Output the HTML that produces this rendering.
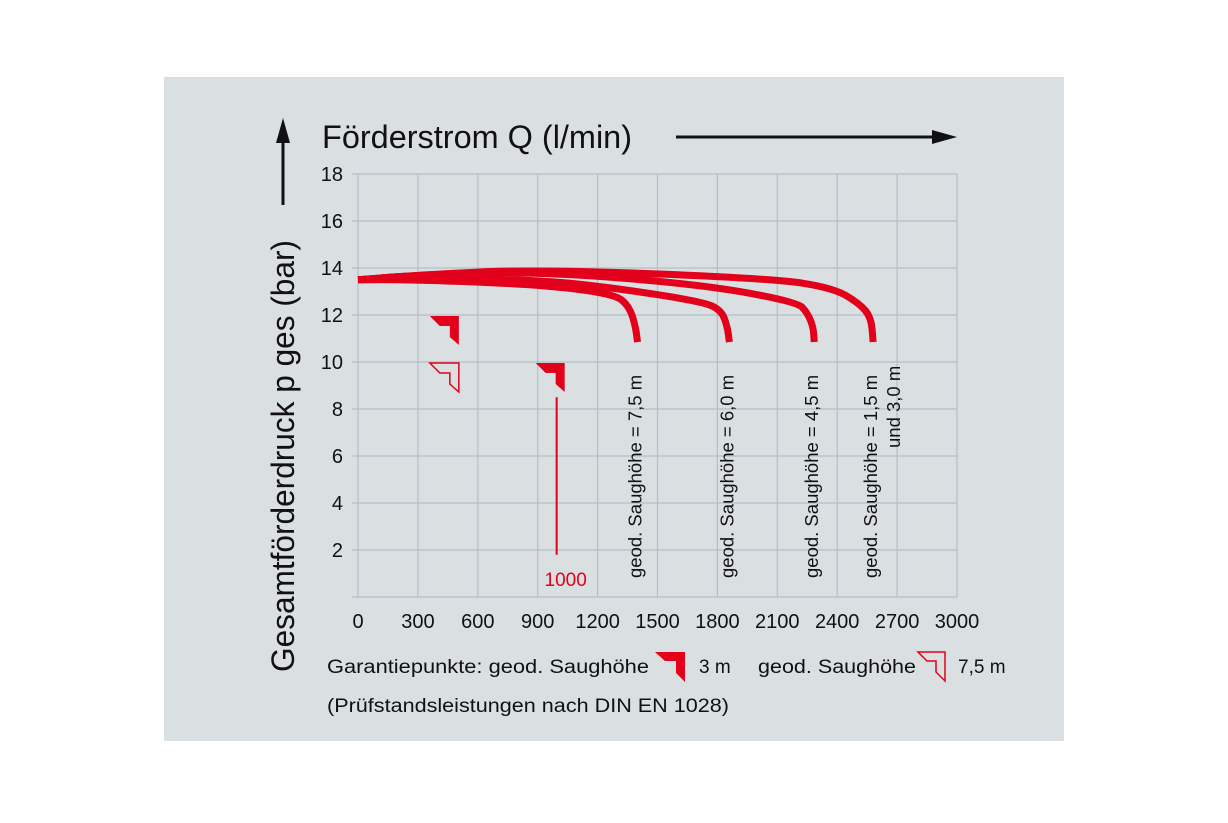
<!DOCTYPE html>
<html><head><meta charset="utf-8"><style>
body{margin:0;width:1228px;height:818px;background:#fff;overflow:hidden}
svg text{font-family:"Liberation Sans",sans-serif;fill:#111}
</style></head><body>
<svg id="chart" width="1228" height="818" xmlns="http://www.w3.org/2000/svg">
<rect x="164" y="77" width="900" height="664" fill="#dadfe2"/>
<g id="grid"></g>
<g id="yticks"></g>
<g id="xticks"></g>
<g id="curves"></g>
<g id="markers"></g>
<g id="labels"></g>
<text x="322" y="148" font-size="32" textLength="310" lengthAdjust="spacingAndGlyphs">Förderstrom Q (l/min)</text>
<line x1="676" y1="137" x2="935" y2="137" stroke="#111" stroke-width="3"/>
<polygon points="957,137 932,130 932,144" fill="#111"/>
<text transform="translate(294,672) rotate(-90)" font-size="32" textLength="432" lengthAdjust="spacingAndGlyphs">Gesamtförderdruck p ges (bar)</text>
<line x1="283" y1="140" x2="283" y2="205" stroke="#111" stroke-width="3"/>
<polygon points="283,118 276,143 290,143" fill="#111"/>
<text x="327" y="673" font-size="19" textLength="322" lengthAdjust="spacingAndGlyphs">Garantiepunkte: geod. Saughöhe</text>
<polygon points="655,652 685,652 685,682 676,673 676,661 665,661" fill="#e2001a"/>
<text x="699" y="673" font-size="19">3 m</text>
<text x="758" y="673" font-size="19" textLength="158" lengthAdjust="spacingAndGlyphs">geod. Saughöhe</text>
<polygon points="918,652 945,652 945,681 936,672 936,661 927,661" fill="none" stroke="#e2001a" stroke-width="1.5"/>
<text x="958" y="673" font-size="19">7,5 m</text>
<text x="327" y="712" font-size="19" textLength="402" lengthAdjust="spacingAndGlyphs">(Prüfstandsleistungen nach DIN EN 1028)</text>
</svg>
<script>
const xTicks=[0,300,600,900,1200,1500,1800,2100,2400,2700,3000];
const yTicks=[2,4,6,8,10,12,14,16,18];
const curveNames=["7,5 m","6,0 m","4,5 m","1,5 m und 3,0 m"];
const curveQ=[
 [0,300,900,1285,1360,1390,1400],
 [0,300,900,1285,1725,1820,1850,1860],
 [0,300,900,1725,2200,2250,2280,2285],
 [0,300,900,2080,2380,2510,2570,2580]];
const curveP=[
 [13.5,13.5,13.3,12.9,12.35,11.5,10.85],
 [13.5,13.55,13.5,13.15,12.57,12.2,11.5,10.85],
 [13.5,13.7,13.85,13.3,12.55,12.1,11.5,10.85],
 [13.5,13.7,13.95,13.55,13.15,12.5,11.9,10.85]];
const filledMarkers=[[470,12],[1000,10]];
const outlineMarkers=[[470,10]];
const refQ=[1000];
const refTop=[8.5];
const refBottom=[1.8];

const NS="http://www.w3.org/2000/svg";
const X=q=>358+q*(599/3000);
const Y=p=>597-p*23.5;
function el(tag,attrs,parent){const e=document.createElementNS(NS,tag);for(const k in attrs)e.setAttribute(k,attrs[k]);document.getElementById(parent).appendChild(e);return e;}
xTicks.forEach(t=>{
 const l=el('line',{x1:X(t),x2:X(t),y1:Y(18),y2:Y(0),stroke:'#b5bec8','stroke-width':1.2},'grid');
 
 
 const tx=el('text',{x:X(t),y:628,'font-size':20,'text-anchor':'middle'},'xticks');
 tx.textContent=t;
 
 
});
[0].concat(yTicks).forEach(t=>{
 const l=el('line',{x1:X(0)-6,x2:X(3000),y1:Y(t),y2:Y(t),stroke:'#b5bec8','stroke-width':1.2},'grid');
 
 
});
yTicks.forEach(t=>{
 const tx=el('text',{x:343,y:Y(t)+7,'font-size':20,'text-anchor':'end'},'yticks');
 tx.textContent=t;
 
 
});
curveQ.forEach((qs,i)=>{
 const pts=qs.map((q,j)=>[X(q),Y(curveP[i][j])]);
 let d='M'+pts[0];
 for(let j=1;j<pts.length;j++){
  const p0=pts[j-1],p1=pts[j];
  const mx=(p0[0]+p1[0])/2;
  d+=' Q'+p0[0]+','+p0[1]+' '+mx+','+(p0[1]+p1[1])/2;
 }
 d+=' L'+pts[pts.length-1];
 const c=el('path',{d:d,fill:'none',stroke:'#e2001a','stroke-width':7,'stroke-linejoin':'round'},'curves');
 
 
});
function marker(q,p,filled){
 const x=X(q)-22,y=Y(p)+1;
 const pts=[[x,y],[x+29,y],[x+29,y+29],[x+20,y+21],[x+20,y+10],[x+10,y+10]].map(a=>a.join(',')).join(' ');
 return el('polygon',{points:pts,fill:filled?'#e2001a':'none',stroke:'#e2001a','stroke-width':filled?0:1.5},'markers');
}
filledMarkers.forEach(m=>{const e=marker(m[0],m[1],true);
 
 });
outlineMarkers.forEach(m=>{const e=marker(m[0],m[1],false);
 
 });
refQ.forEach((q,i)=>{
 const l=el('line',{x1:X(q)-1,x2:X(q)-1,y1:Y(refTop[i]),y2:Y(refBottom[i]),stroke:'#e2001a','stroke-width':2},'markers');
 
 
 const t=el('text',{x:X(q)+8,y:586,'font-size':19,'text-anchor':'middle',style:'fill:#e2001a'},'markers');
 t.textContent=q;
 
 
});
curveQ.forEach((qs,i)=>{
 const q=qs[qs.length-1];
 const name=curveNames[i];
 const parts=name.split(' und ');
 const x0=X(q)-2;
 const t=el('text',{transform:'translate('+(x0+6)+',578) rotate(-90)','font-size':18.5},'labels');
 t.textContent='geod. Saughöhe = '+parts[0];
 
 
 if(parts[1]){
  const t2=el('text',{transform:'translate('+(x0+29)+',448) rotate(-90)','font-size':18.5},'labels');
  t2.textContent='und '+parts[1];
  
  
 }
});
</script>
</body></html>
